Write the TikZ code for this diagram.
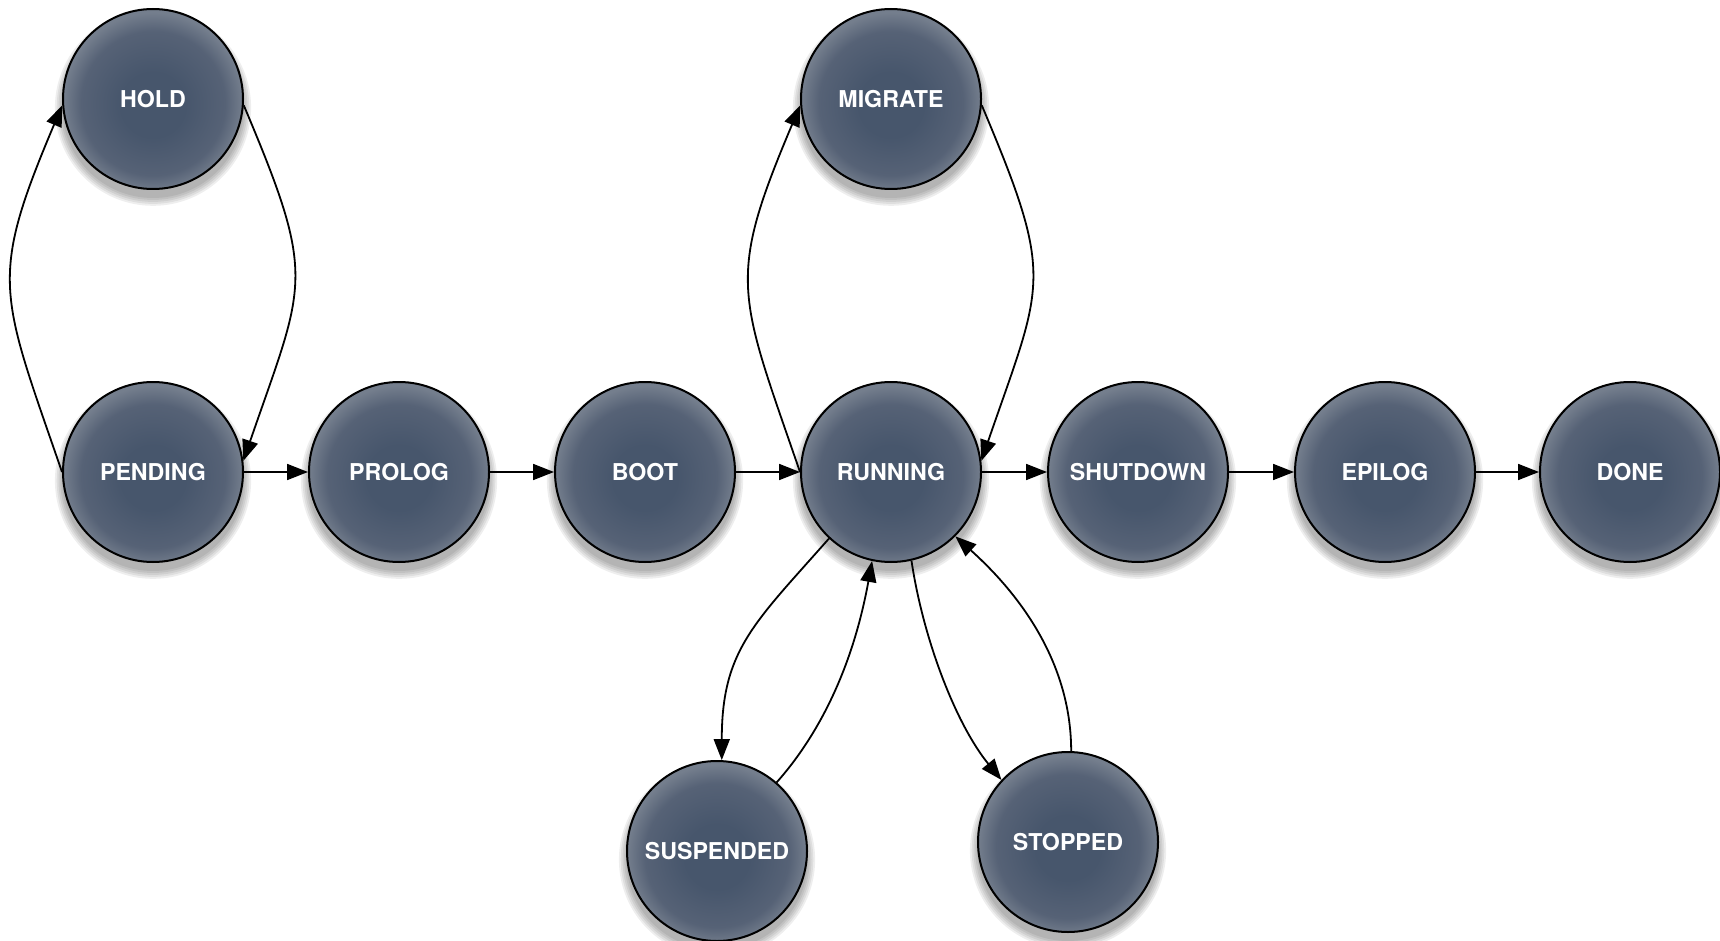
\documentclass[tikz,border=0pt]{standalone}
\usepackage{fontspec}
\newfontfamily\statefont{TeX Gyre Heros}
\usetikzlibrary{arrows.meta,shadows,backgrounds}

% node fill: dark slate centre, lighter rim
\definecolor{stCentre}{RGB}{71,86,108}
\definecolor{stMid}{RGB}{86,98,118}
\definecolor{stRim}{RGB}{116,126,141}
\pgfdeclareradialshading{statefill}{\pgfpoint{0bp}{-2bp}}{%
  color(0bp)=(stCentre); color(9bp)=(stCentre); color(20bp)=(stMid);
  color(25bp)=(stRim); color(50bp)=(stRim)}

\tikzset{
  softshadow/.style={general shadow={shadow yshift=-8pt, shadow scale=#1,
      fill=black, opacity=0.065}},
  state/.style={circle, minimum size=180pt, inner sep=0pt,
    draw=black, line width=2pt, shading=statefill,
    softshadow=1.09, softshadow=1.07, softshadow=1.05, softshadow=1.03,
    softshadow=1.01,
    text=white, font=\statefont\bfseries\fontsize{23.2}{28}\selectfont},
  flow/.style={draw=black, line width=1.8pt,
    -{Triangle[length=21pt,width=16pt]}},
}

\begin{document}
\begin{tikzpicture}[x=1pt,y=-1pt]
  \fill[white] (0,0) rectangle (1720,941);
  \useasboundingbox (0,0) rectangle (1720,941);

  % states
  \node[state] (hold)      at (153,99)    {HOLD};
  \node[state] (migrate)   at (891,99)    {MIGRATE};
  \node[state] (pending)   at (153,472)   {PENDING};
  \node[state] (prolog)    at (399,472)   {PROLOG};
  \node[state] (boot)      at (645,472)   {BOOT};
  \node[state] (running)   at (891,472)   {RUNNING};
  \node[state] (shutdown)  at (1138,472)  {SHUTDOWN};
  \node[state] (epilog)    at (1385,472)  {EPILOG};
  \node[state] (done)      at (1630,472)  {DONE};
  \node[state] (suspended) at (717,851)   {SUSPENDED};
  \node[state] (stopped)   at (1068,842)  {STOPPED};

  % main line
  \draw[flow] (pending) -- (prolog);
  \draw[flow] (prolog) -- (boot);
  \draw[flow] (boot) -- (running);
  \draw[flow] (running) -- (shutdown);
  \draw[flow] (shutdown) -- (epilog);
  \draw[flow] (epilog) -- (done);

  % hold loop
  \draw[flow] (pending.west) .. controls +(-62,-180) and +(-74,175) .. (hold.184);
  \draw[flow] (hold.-4) .. controls +(74,175) and +(62,-180) .. (pending.7);

  % migrate loop
  \draw[flow] (running.west) .. controls +(-62,-180) and +(-74,175) .. (migrate.184);
  \draw[flow] (migrate.-4) .. controls +(74,175) and +(62,-180) .. (running.7);

  % suspend / resume
  \draw[flow] (running.227) .. controls +(-75,85) and +(0,-110) .. (suspended.87);
  \draw[flow] (suspended.49) .. controls +(40,-45) and +(-20,110) .. (running.258);

  % stop / resume
  \draw[flow] (running.283) .. controls +(12,80) and +(-45,-55) .. (stopped.137);
  \draw[flow] (stopped.88) .. controls +(0,-100) and +(50,45) .. (running.315);
\end{tikzpicture}
\end{document}
